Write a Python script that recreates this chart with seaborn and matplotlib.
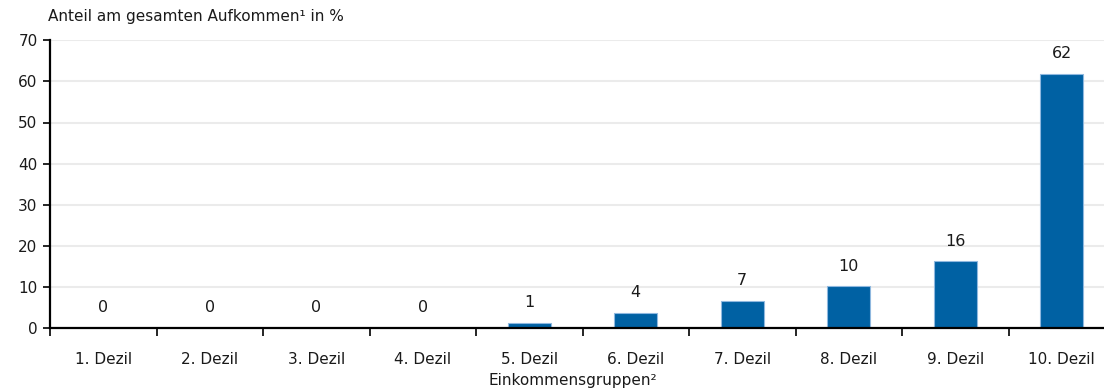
import matplotlib
matplotlib.use("Agg")
import matplotlib.pyplot as plt
import seaborn as sns
import pandas as pd

# values
groups = ["1. Dezil", "2. Dezil", "3. Dezil", "4. Dezil", "5. Dezil",
          "6. Dezil", "7. Dezil", "8. Dezil", "9. Dezil", "10. Dezil"]
shares = [0, 0, 0, 0, 1.3, 3.7, 6.6, 10.1, 16.2, 61.9]
share_labels = ["0", "0", "0", "0", "1", "4", "7", "10", "16", "62"]
y_ticks = [0, 10, 20, 30, 40, 50, 60, 70]

df = pd.DataFrame({"Gruppe": groups, "Anteil": shares})

sns.set_style("white")
plt.rcParams["font.family"] = ["DejaVu Sans"]

fig = plt.figure(figsize=(11.04, 3.89), dpi=100)
ax = fig.add_axes([50 / 1104, 61 / 389, 1065 / 1104, 287.7 / 389])

sns.barplot(data=df, x="Gruppe", y="Anteil", color="#0061a3", width=0.4,
            saturation=1, edgecolor="#8fb8df", linewidth=0.8, ax=ax)

for i, (v, lab) in enumerate(zip(shares, share_labels)):
    ax.annotate(lab, (i, v), xytext=(0, 9), textcoords="offset points",
                ha="center", va="bottom", fontsize=11.5, color="#1a1a1a")

ax.set_ylim(0, 70)
ax.set_xlim(-0.5, 9.5)
ax.set_yticks(y_ticks)
ax.yaxis.grid(True, color="#ebebeb", linewidth=1.5)
ax.set_axisbelow(True)

for s in ["top", "right"]:
    ax.spines[s].set_visible(False)
for s in ["left", "bottom"]:
    ax.spines[s].set_color("black")
    ax.spines[s].set_linewidth(1.6)

ax.tick_params(axis="y", length=5, width=1.2, color="black", pad=4,
               labelsize=11, labelcolor="#1a1a1a", left=True)
ax.tick_params(axis="x", which="major", length=0, pad=17,
               labelsize=11, labelcolor="#1a1a1a")
ax.set_xticks([i - 0.5 for i in range(len(groups))], minor=True)
ax.tick_params(axis="x", which="minor", length=6, width=1.2, color="black",
               bottom=True)

ax.set_xlabel("")
ax.set_ylabel("")
fig.text(48 / 1104, 1 - 17 / 389, "Anteil am gesamten Aufkommen\u00b9 in %",
         ha="left", va="center", fontsize=11, color="#1a1a1a")
fig.text(573 / 1104, 1 - 381 / 389, "Einkommensgruppen\u00b2",
         ha="center", va="center", fontsize=11, color="#1a1a1a")

fig.savefig("out.png", dpi=100)
